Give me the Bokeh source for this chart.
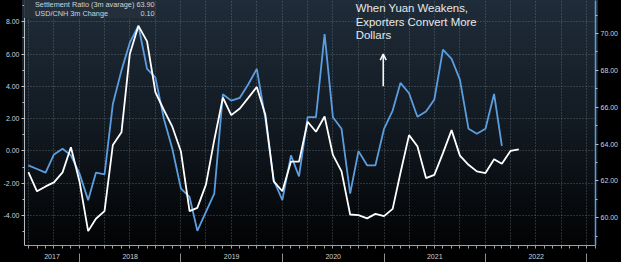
import pandas as pd
from bokeh.plotting import figure
from bokeh.models import (ColumnDataSource, Range1d, LinearAxis, FixedTicker, Grid,
                          Legend, LegendItem, Label, Arrow, OpenHead,
                          PrintfTickFormatter, CustomJSTickFormatter)
from bokeh.embed import file_html
from bokeh.resources import INLINE

# ---------------- data ----------------
settlement_start = "2017-07-01"
settlement_ratio = [62.85, 62.65, 62.45, 63.44, 63.75, 63.39, 62.40, 60.96, 62.45, 62.36,
                    66.18, 68.00, 69.50, 70.42, 68.08, 67.62, 65.35, 63.75, 61.59, 61.14,
                    59.30, 60.32, 61.32, 66.70, 66.36, 66.51, 67.26, 68.08, 65.37, 62.04,
                    60.96, 63.39, 62.25, 65.46, 65.46, 69.97, 65.46, 64.83, 61.32, 63.62,
                    62.85, 62.85, 64.83, 65.82, 67.32, 66.76, 65.48, 65.77, 66.42, 69.12,
                    68.62, 67.50, 64.83, 64.56, 64.83, 66.72, 63.90]
usd_cnh_start = "2017-07-01"
usd_cnh_3m = [-1.31, -2.50, -2.20, -1.95, -1.33, 0.23, -1.89, -4.97, -4.20, -3.73,
              0.37, 1.15, 6.01, 7.75, 6.79, 3.65, 2.52, 1.50, -0.04, -3.73,
              -3.53, -2.09, 0.68, 3.30, 2.22, 2.63, 3.30, 3.96, 2.22, -1.89,
              -2.50, -0.66, -0.66, 1.81, 1.19, 2.13, -0.25, -1.27, -3.94, -3.98,
              -4.18, -3.90, -4.04, -3.59, -1.37, 0.98, 0.29, -1.68, -1.48, -0.14,
              1.29, -0.29, -0.86, -1.27, -1.37, -0.51, -0.80, 0.00, 0.10]
series_names = ["Settlement Ratio (3m avarage)", "USD/CNH 3m Change"]
last_values = ["63.90", "0.10"]
left_ticks = [-4, -2, 0, 2, 4, 6, 8]
right_ticks = [60, 62, 64, 66, 68, 70]
years = [2017, 2018, 2019, 2020, 2021, 2022]
annotation_text = "When Yuan Weakens,\nExporters Convert More\nDollars"

# ---------------- styling ----------------
BLUE = "#5b9ee0"
WHITE = "#ffffff"
TXT = "#cfd3d6"
FONT = "Liberation Sans"

x_start = pd.Timestamp("2017-06-17")
x_end = pd.Timestamp("2023-02-01")

def ms(t):
    return pd.Timestamp(t).value // 10**6

blue_dates = pd.date_range(settlement_start, periods=len(settlement_ratio), freq="MS")
white_dates = pd.date_range(usd_cnh_start, periods=len(usd_cnh_3m), freq="MS")
src_b = ColumnDataSource(dict(x=blue_dates, y=settlement_ratio))
src_w = ColumnDataSource(dict(x=white_dates, y=usd_cnh_3m))

p = figure(width=621, height=262, output_backend="svg", toolbar_location=None,
           x_axis_type=None, y_axis_type=None,
           x_range=Range1d(ms(x_start), ms(x_end)),
           y_range=Range1d(-5.86, 9.32),
           min_border_left=22, min_border_right=23, min_border_top=0, min_border_bottom=17,
           background_fill_alpha=0, border_fill_alpha=0, outline_line_color=None,
           styles={"background": "linear-gradient(to bottom, #1f2c39 0%, #121a22 50%, #020304 100%) 22px 0px / 576px 245px no-repeat, #000000"})
p.extra_y_ranges = {"right": Range1d(58.50, 71.79)}

# ticks
month_ticks = [ms(d) for d in pd.date_range(x_start, x_end, freq="MS")]
quarter_ticks = [ms(d) for d in pd.date_range(x_start, x_end, freq="QS-JAN")]
year_bounds = [ms(pd.Timestamp(year=y + 1, month=1, day=1)) for y in years]
year_centers = []
for y in years:
    a = max(ms(pd.Timestamp(year=y, month=1, day=1)), ms(x_start))
    b = min(ms(pd.Timestamp(year=y + 1, month=1, day=1)), ms(x_end))
    year_centers.append((a + b) // 2)

# grids
p.add_layout(Grid(dimension=0, ticker=FixedTicker(ticks=quarter_ticks),
                  grid_line_color="#8d98a3", grid_line_alpha=0.55, grid_line_dash="1 2"))
p.add_layout(Grid(dimension=1, ticker=FixedTicker(ticks=left_ticks),
                  grid_line_color="#8d98a3", grid_line_alpha=0.55, grid_line_dash="1 2"))

# lines
p.line("x", "y", source=src_b, line_color=BLUE, line_width=1.8, y_range_name="right")
p.line("x", "y", source=src_w, line_color=WHITE, line_width=1.8)

# axes
left = LinearAxis(ticker=FixedTicker(ticks=left_ticks, minor_ticks=[v + 1 for v in left_ticks] + [-5]),
                  formatter=PrintfTickFormatter(format="%.2f"),
                  major_tick_out=3, major_tick_in=0, minor_tick_out=2, minor_tick_in=0,
                  major_label_standoff=2, major_label_text_font=FONT,
                  major_label_text_font_size="7px", major_label_text_color=TXT,
                  axis_line_color="#b8bcc0", major_tick_line_color="#b8bcc0",
                  minor_tick_line_color="#b8bcc0")
p.add_layout(left, "left")

right = LinearAxis(y_range_name="right",
                   ticker=FixedTicker(ticks=right_ticks, minor_ticks=[v - 1 for v in right_ticks] + [71]),
                   formatter=PrintfTickFormatter(format="%.2f"),
                   major_tick_out=3, major_tick_in=0, minor_tick_out=2, minor_tick_in=0,
                   major_label_standoff=2, major_label_text_font=FONT,
                   major_label_text_font_size="7px", major_label_text_color=TXT,
                   axis_line_color=BLUE, axis_line_width=1.5,
                   major_tick_line_color="#b8bcc0", minor_tick_line_color="#b8bcc0")
p.add_layout(right, "right")

month_axis = LinearAxis(ticker=FixedTicker(ticks=month_ticks),
                        formatter=CustomJSTickFormatter(code="return ''"),
                        major_tick_out=3, major_tick_in=0, major_label_standoff=0,
                        major_label_text_font_size="0px",
                        axis_line_color="#9aa0a6", major_tick_line_color="#9aa0a6")
p.add_layout(month_axis, "below")

year_axis = LinearAxis(ticker=FixedTicker(ticks=year_centers, minor_ticks=year_bounds),
                       formatter=CustomJSTickFormatter(code="return String(new Date(tick).getUTCFullYear())"),
                       axis_line_color=None, major_tick_line_color=None,
                       major_tick_out=0, major_tick_in=0,
                       minor_tick_out=14, minor_tick_in=-5, minor_tick_line_color="#8a8f94",
                       major_label_standoff=-9, major_label_text_font=FONT,
                       major_label_text_font_size="7px", major_label_text_color=TXT)
p.add_layout(year_axis, "below")

# legend (square swatches)
sw_b = p.quad(left=[], right=[], top=[], bottom=[], fill_color=BLUE, line_color=None)
sw_w = p.quad(left=[], right=[], top=[], bottom=[], fill_color=WHITE, line_color=None)
nb = "\u00a0"
legend = Legend(items=[
    LegendItem(label=series_names[0] + nb + last_values[0], renderers=[sw_b]),
    LegendItem(label=series_names[1] + nb * 16 + last_values[1], renderers=[sw_w]),
], location="top_left", margin=0, padding=2, spacing=0,
    glyph_width=7, glyph_height=7, label_height=8, label_standoff=4,
    label_text_font=FONT, label_text_font_size="7.3px", label_text_color=TXT,
    background_fill_color="#26303b", background_fill_alpha=0.9, border_line_color=None)
p.add_layout(legend)

# annotation
p.add_layout(Label(x=ms("2020-09-21"), y=9.2, text=annotation_text,
                   text_font=FONT, text_font_size="11.4px", text_color="#e6e8ea",
                   text_baseline="top", text_align="left", text_line_height=1.1))
arrow_x = ms("2020-12-29")
p.add_layout(Arrow(end=OpenHead(size=6, line_color=WHITE, line_width=1.5),
                   x_start=arrow_x, y_start=4.0, x_end=arrow_x, y_end=6.0,
                   line_color=WHITE, line_width=1.5))

open("out.html", "w").write(file_html(p, INLINE))
